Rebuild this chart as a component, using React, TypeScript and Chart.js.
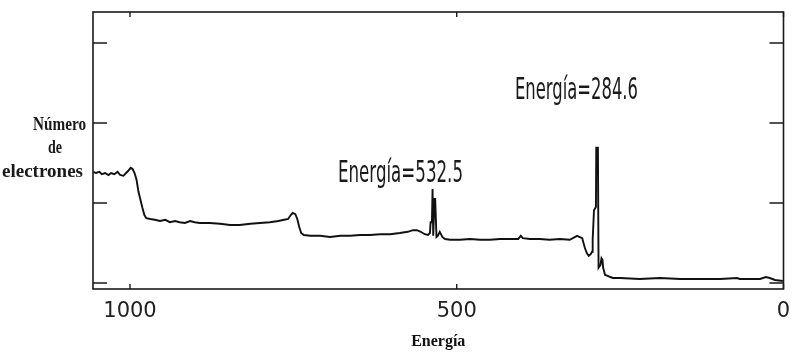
import React, { useEffect, useRef } from "react";
import { Chart, registerables } from "chart.js";

Chart.register(...registerables);

// Binding energy (eV), left to right (high -> low)
const energies: number[] = [
  1056, 1052, 1047, 1043, 1038, 1033, 1029, 1024, 1019, 1015, 1010, 1006, 1003, 999, 996, 993,
  990, 987, 984, 981, 978, 975, 969, 962, 954, 946, 939, 931, 924, 916, 908, 901, 893, 878,
  862, 847, 832, 816, 801, 786, 773, 764, 758, 754, 751, 747, 744, 741, 738, 734, 724, 709,
  694, 678, 663, 648, 633, 617, 602, 587, 575, 567, 561, 555, 549, 544, 541, 540, 538, 537,
  536, 534, 533, 531, 529, 526, 522, 518, 510, 495, 480, 464, 449, 434, 419, 406, 402, 399,
  388, 373, 358, 342, 327, 316, 308, 304, 301, 298, 295, 293, 292, 290, 287, 286.5, 284, 283,
  280, 278.5, 277, 276, 273, 269, 265, 261, 250, 220, 189, 158, 128, 97, 71, 67, 36, 27, 21,
  13, 1,
];

// Number of electrons (arbitrary units)
const electrons: number[] = [
  1.39, 1.375, 1.39, 1.36, 1.375, 1.35, 1.375, 1.36, 1.39, 1.35, 1.34, 1.375, 1.4, 1.44, 1.425, 1.375,
  1.29, 1.14, 1.04, 0.94, 0.85, 0.81, 0.8, 0.79, 0.775, 0.79, 0.76, 0.775, 0.76, 0.75, 0.775, 0.76, 0.75, 0.75,
  0.74, 0.725, 0.725, 0.74, 0.75, 0.76, 0.775, 0.79, 0.8, 0.85, 0.875, 0.86, 0.8, 0.7, 0.625, 0.6, 0.59, 0.59,
  0.575, 0.59, 0.59, 0.6, 0.6, 0.61, 0.61, 0.625, 0.64, 0.66, 0.66, 0.64, 0.61, 0.6, 0.625, 0.76, 0.76, 1.175,
  0.59, 1.05, 1.05, 0.575, 0.59, 0.64, 0.575, 0.55, 0.54, 0.54, 0.55, 0.54, 0.54, 0.55, 0.55, 0.55, 0.59, 0.56,
  0.55, 0.55, 0.54, 0.55, 0.54, 0.59, 0.56, 0.44, 0.375, 0.34, 0.36, 0.39, 0.54, 0.91, 0.95, 1.69, 1.69, 0.19,
  0.225, 0.31, 0.29, 0.19, 0.1, 0.09, 0.075, 0.0625, 0.0625, 0.05, 0.0625, 0.05, 0.05, 0.05, 0.0625, 0.05, 0.05, 0.075, 0.0625,
  0.0375, 0.025,
];

const xTickValues: number[] = [1000, 500, 0];
const yTickValues: number[] = [0, 1, 2, 3];

const peakLabels: string[] = ["Energía=532.5", "Energía=284.6"];
const yTitleLines: string[] = ["Número", "de", "electrones"];
const xTitle = "Energía";

const X_MAX = 1056.6;
const X_MIN = 0;
const Y_MIN = -0.075;
const Y_MAX = 3.3875;

function drawFitted(
  ctx: CanvasRenderingContext2D,
  text: string,
  left: number,
  width: number,
  baseline: number,
  font: string
) {
  ctx.save();
  ctx.font = font;
  ctx.textAlign = "left";
  ctx.textBaseline = "alphabetic";
  const w = ctx.measureText(text).width || 1;
  ctx.translate(left, baseline);
  ctx.scale(width / w, 1);
  ctx.fillText(text, 0, 0);
  ctx.restore();
}

const framePlugin = {
  id: "framePlugin",
  afterDraw(chart: any) {
    const ctx: CanvasRenderingContext2D = chart.ctx;
    const { left, right, top, bottom } = chart.chartArea;
    const xs = chart.scales.x;
    const ys = chart.scales.y;
    ctx.save();
    ctx.strokeStyle = "#1a1a1a";
    ctx.lineWidth = 1.6;
    ctx.strokeRect(left, top, right - left, bottom - top);
    ctx.lineWidth = 1.4;
    ctx.beginPath();
    for (const v of yTickValues) {
      const py = ys.getPixelForValue(v);
      ctx.moveTo(left, py);
      ctx.lineTo(left + 14, py);
      ctx.moveTo(right, py);
      ctx.lineTo(right - 14, py);
    }
    for (const v of xTickValues) {
      const px = xs.getPixelForValue(v);
      ctx.moveTo(px, bottom);
      ctx.lineTo(px, bottom - 5);
      ctx.moveTo(px, top);
      ctx.lineTo(px, top + 5);
    }
    ctx.stroke();

    ctx.fillStyle = "#1a1a1a";
    const peakFont = '30px "Liberation Sans Narrow", "DejaVu Sans Condensed", "Liberation Sans", sans-serif';
    drawFitted(ctx, peakLabels[0], 338, 125, 182, peakFont);
    drawFitted(ctx, peakLabels[1], 515, 123, 99, peakFont);

    const serif = 'bold 18px "Liberation Serif", "DejaVu Serif", serif';
    drawFitted(ctx, yTitleLines[0], 33, 53, 130, serif);
    drawFitted(ctx, yTitleLines[1], 48, 14, 153, serif);
    drawFitted(ctx, yTitleLines[2], 2, 81, 177, serif);
    ctx.restore();
  },
};

export default function App() {
  const canvasRef = useRef<HTMLCanvasElement | null>(null);

  useEffect(() => {
    const canvas = canvasRef.current;
    if (!canvas) return;
    const points = energies.map((e, i) => ({ x: e, y: electrons[i] }));
    const chart = new Chart(canvas, {
      type: "line",
      data: {
        datasets: [
          {
            data: points,
            borderColor: "#111111",
            borderWidth: 1.9,
            pointRadius: 0,
            tension: 0,
            fill: false,
          },
        ],
      },
      options: {
        animation: false,
        responsive: false,
        maintainAspectRatio: false,
        events: [],
        layout: { padding: { top: 12, right: 10.5, left: 0, bottom: 0 } },
        plugins: {
          legend: { display: false },
          tooltip: { enabled: false },
        },
        scales: {
          x: {
            type: "linear",
            reverse: true,
            min: X_MIN,
            max: X_MAX,
            grid: { display: false, drawTicks: false },
            border: { display: false },
            afterBuildTicks: (scale: any) => {
              scale.ticks = xTickValues.map((v) => ({ value: v }));
            },
            afterFit: (scale: any) => {
              scale.height = 63;
              scale.paddingLeft = 0;
              scale.paddingRight = 0;
            },
            ticks: {
              autoSkip: false,
              maxRotation: 0,
              minRotation: 0,
              padding: 12,
              color: "#222222",
              font: { family: '"DejaVu Sans", sans-serif', size: 21, lineHeight: 1 },
              callback: (v: any) => String(v),
            },
            title: {
              display: true,
              text: xTitle,
              color: "#111111",
              padding: { top: 0, bottom: 1 },
              font: { family: '"Liberation Serif", "DejaVu Serif", serif', size: 16, weight: "bold" },
            },
          },
          y: {
            type: "linear",
            min: Y_MIN,
            max: Y_MAX,
            grid: { display: false, drawTicks: false },
            border: { display: false },
            ticks: { display: false },
            afterFit: (scale: any) => {
              scale.width = 93;
              scale.paddingTop = 0;
              scale.paddingBottom = 0;
            },
          },
        },
      },
      plugins: [framePlugin],
    });
    return () => chart.destroy();
  }, []);

  return (
    <div style={{ position: "fixed", left: 0, top: 0, width: 794, height: 352, background: "#ffffff" }}>
      <canvas ref={canvasRef} width={794} height={352} style={{ width: 794, height: 352, display: "block" }} />
    </div>
  );
}
